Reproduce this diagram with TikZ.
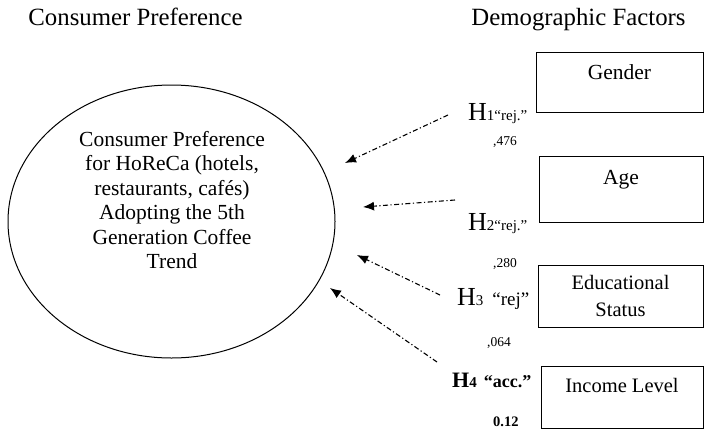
\documentclass[tikz,border=0pt]{standalone}
\usepackage{fontspec}
\setmainfont{Liberation Serif}
\usepackage{tikz}
\usetikzlibrary{positioning,shapes,arrows.meta}

\newcommand{\fsz}[2]{\fontsize{#1}{#2}\selectfont}

\begin{document}
\begin{tikzpicture}[x=1pt,y=-1pt,->,>={Latex[length=11pt,width=9pt]},auto]
  \tikzstyle{every node}=[inner sep=0pt]
  \tikzstyle{factor}=[draw, rectangle, line width=1pt, align=center]
  \tikzstyle{hyp}=[line width=1.1pt, dash pattern=on 5pt off 2.5pt on 1.2pt off 2.5pt]
  \tikzstyle{lbl}=[anchor=base west]
  \useasboundingbox (0,0) rectangle (704,429);

  % headings
  \node[anchor=base] (headpref) at (135.5,25) {\fsz{24.8}{28}Consumer Preference};
  \node[anchor=base] (headdemo) at (578.5,25) {\fsz{24.8}{28}Demographic Factors};

  % dependent construct
  \node[draw, ellipse, line width=1pt, minimum width=327pt, minimum height=273pt] (pref) at (171.5,221.5) {};
  \node[align=center, font=\fsz{21.5}{24.5}] (preftext) at (172,200) {Consumer Preference\\for HoReCa (hotels,\\restaurants, cafés)\\Adopting the 5th\\Generation Coffee\\Trend};

  % demographic factors
  \node[factor, minimum width=167pt, minimum height=60pt] (gender) at (619.5,82) {};
  \node[below=13pt of gender.north, font=\fsz{21.5}{24}] (gendertxt) {Gender};
  \node[factor, minimum width=164pt, minimum height=66pt] (age) at (621,189) {};
  \node[below=15pt of age.north, font=\fsz{21.5}{24}] (agetxt) {Age};
  \node[factor, minimum width=165pt, minimum height=62pt, font=\fsz{20.5}{27}] (edu) at (620.5,296) {Educational\\Status};
  \node[factor, minimum width=162pt, minimum height=62pt] (income) at (622,397) {};
  \node[below=13pt of income.north, font=\fsz{20.5}{24}] (incometxt) {Income Level};

  % hypotheses
  \node[lbl] (h1) at (468,120) {\fsz{26}{26}H\fsz{15}{15}1“rej.”};
  \node[lbl] (h2) at (468,230) {\fsz{26}{26}H\fsz{15}{15}2“rej.”};
  \node[lbl] (h3) at (457,305) {\fsz{26}{26}H\fsz{15}{15}3\hspace{9pt}\fsz{19}{19}“rej”};
  \node[lbl] (h4) at (452,387) {\bfseries\fsz{22}{22}H\fsz{15}{15}4\hspace{7pt}\fsz{18}{18}“acc.”};

  % coefficients
  \node[lbl] (c1) at (493,145) {\fsz{13.5}{14},476};
  \node[lbl] (c2) at (493,267) {\fsz{13.5}{14},280};
  \node[lbl] (c3) at (487,346) {\fsz{13.5}{14},064};
  \node[lbl] (c4) at (493,426) {\bfseries\fsz{14.5}{15}0.12};

  % arrows
  \coordinate (t1) at (448,115); \coordinate (a1) at (345,163);
  \coordinate (t2) at (455,200); \coordinate (a2) at (363,207);
  \coordinate (t3) at (440,295); \coordinate (a3) at (357,255);
  \coordinate (t4) at (437,362); \coordinate (a4) at (330,288);
  \path (t1) edge[hyp] (a1)
        (t2) edge[hyp] (a2)
        (t3) edge[hyp] (a3)
        (t4) edge[hyp] (a4);
\end{tikzpicture}
\end{document}
